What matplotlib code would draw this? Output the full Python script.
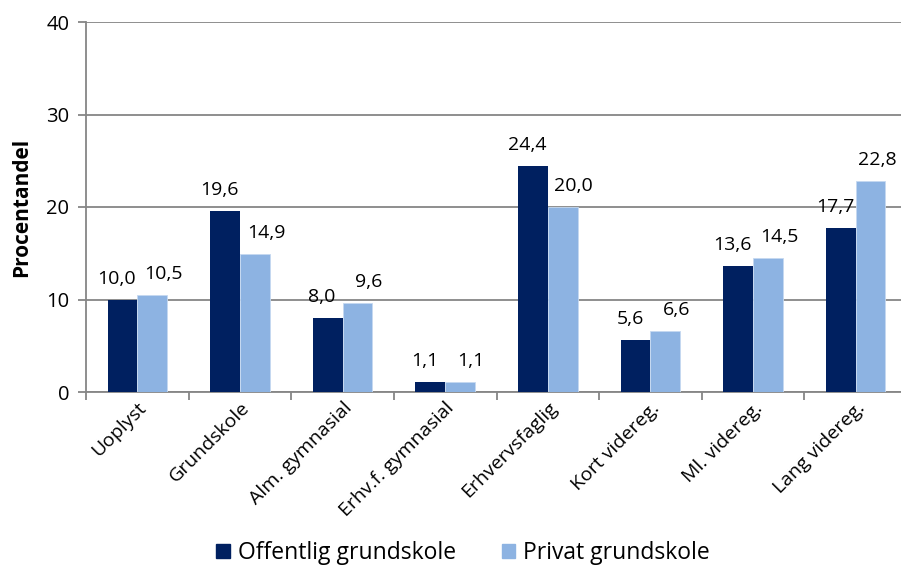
import matplotlib
matplotlib.use("Agg")
import matplotlib.pyplot as plt
import numpy as np
from matplotlib.patches import Patch

categories = ["Uoplyst", "Grundskole", "Alm. gymnasial", "Erhv.f. gymnasial",
              "Erhvervsfaglig", "Kort videreg.", "Ml. videreg.", "Lang videreg."]
offentlig = [10.0, 19.6, 8.0, 1.1, 24.4, 5.6, 13.6, 17.7]
privat = [10.5, 14.9, 9.6, 1.1, 20.0, 6.6, 14.5, 22.8]
series_names = ["Offentlig grundskole", "Privat grundskole"]
yticks = [0, 10, 20, 30, 40]

dark = "#002060"
light = "#8DB3E2"
grid_c = "#868686"

plt.rcParams['font.family'] = ['Open Sans', 'DejaVu Sans']

W, H = 901, 568
fig = plt.figure(figsize=(W / 100, H / 100), dpi=100)
ax = fig.add_axes([86 / W, 1 - 392 / H, 821 / W, 370 / H])

x = np.arange(len(categories))
bw = 0.29
b1 = ax.bar(x - bw / 2, offentlig, bw, color=dark, zorder=3)
b2 = ax.bar(x + bw / 2, privat, bw, color=light, edgecolor="#C6D9F1", linewidth=0.6, zorder=3)

def fmt(v):
    return f"{v:.1f}".replace(".", ",")

labels = []
for rect, v in zip(b1, offentlig):
    labels.append(ax.annotate(fmt(v), (rect.get_x() + rect.get_width() / 2, v),
                  xytext=(-4, 11.5), textcoords="offset points",
                  ha="center", va="baseline", fontsize=14, color="#000000", zorder=4))
for rect, v in zip(b2, privat):
    labels.append(ax.annotate(fmt(v), (rect.get_x() + rect.get_width() / 2, v),
                  xytext=(8, 11.5), textcoords="offset points",
                  ha="center", va="baseline", fontsize=14, color="#000000", zorder=4))

ax.set_xlim(-0.5, len(categories) - 0.5)
ax.set_ylim(0, 40)
ax.set_yticks(yticks)
ax.set_yticklabels([str(t) for t in yticks], fontsize=14.5)
ax.yaxis.grid(True, color=grid_c, linewidth=1.3, zorder=0)
ax.set_axisbelow(True)

ax.set_xticks(np.arange(len(categories) + 1) - 0.5)
ax.set_xticklabels([])
ax.set_xticks(x, minor=True)
ax.set_xticklabels(categories, minor=True, rotation=45, ha="right",
                   rotation_mode="anchor", fontsize=14)
ax.tick_params(axis="x", which="minor", length=0, pad=5)
ax.tick_params(axis="x", which="major", length=6, color=grid_c, width=1.3, direction="out")
ax.tick_params(axis="y", length=6, color=grid_c, width=1.3, direction="out", pad=6)

for s in ["top", "right"]:
    ax.spines[s].set_visible(False)
for s in ["left", "bottom"]:
    ax.spines[s].set_color(grid_c)
    ax.spines[s].set_linewidth(1.3)

ax.set_ylabel("Procentandel", fontsize=15, fontweight="bold", labelpad=10)

handles = [Patch(facecolor=dark, edgecolor=dark), Patch(facecolor=light, edgecolor=light)]
fig.legend(handles, series_names, loc="center", bbox_to_anchor=(463 / W, 1 - 553 / H),
           ncol=2, frameon=False, fontsize=16.5, handlelength=0.6, handleheight=0.6,
           handletextpad=0.35, columnspacing=2.0, borderaxespad=0)

# keep value labels inside the figure
fig.canvas.draw()
renderer = fig.canvas.get_renderer()
for t in labels:
    bb = t.get_window_extent(renderer)
    over = bb.x1 - (W - 4)
    if over > 0:
        dx, dy = t.xyann
        t.xyann = (dx - over * 72 / 100, dy)

fig.savefig("out.png", dpi=100)
